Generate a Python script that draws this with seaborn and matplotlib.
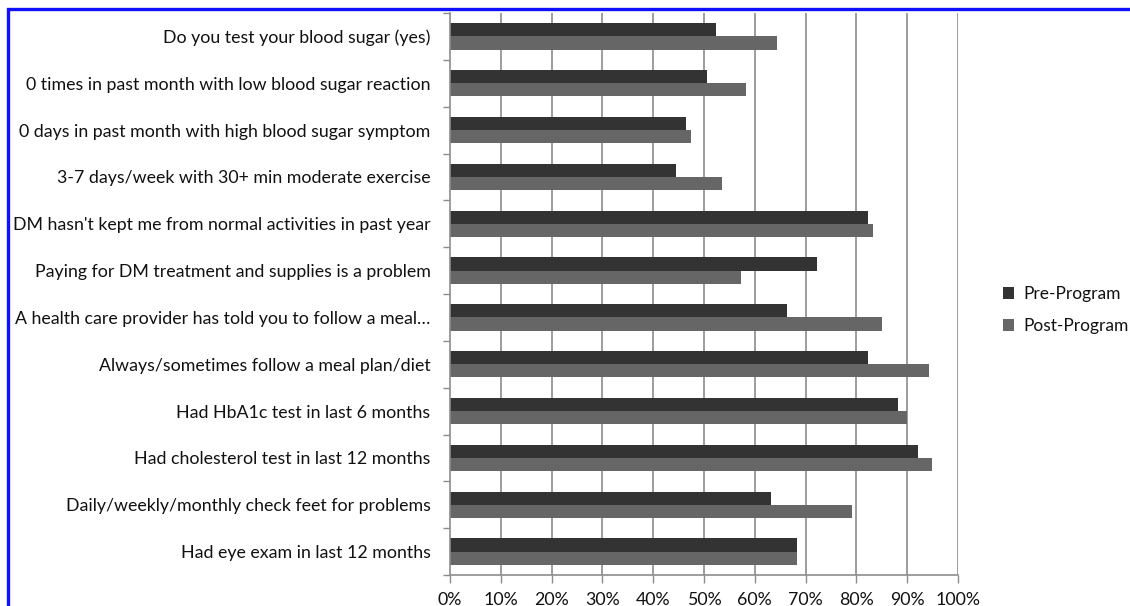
import matplotlib
matplotlib.use("Agg")
import matplotlib.pyplot as plt
from matplotlib.patches import Rectangle
from matplotlib.ticker import FixedLocator, PercentFormatter
import seaborn as sns
import pandas as pd

categories = [
    "Do you test your blood sugar (yes)",
    "0 times in past month with low blood sugar reaction",
    "0 days in past month with high blood sugar symptom",
    "3-7 days/week with 30+ min moderate exercise",
    "DM hasn't kept me from normal activities in past year",
    "Paying for DM treatment and supplies is a problem",
    "A health care provider has told you to follow a meal\u2026",
    "Always/sometimes follow a meal plan/diet",
    "Had HbA1c test in last 6 months",
    "Had cholesterol test in last 12 months",
    "Daily/weekly/monthly check feet for problems",
    "Had eye exam in last 12 months",
]
pre_program = [52.4, 50.6, 46.4, 44.5, 82.2, 72.3, 66.3, 82.2, 88.1, 92.1, 63.2, 68.3]
post_program = [64.3, 58.3, 47.4, 53.5, 83.2, 57.3, 85.1, 94.2, 89.9, 94.9, 79.2, 68.3]
series = ["Pre-Program", "Post-Program"]
x_ticks = list(range(0, 101, 10))

df = pd.DataFrame({
    "category": categories * 2,
    "value": pre_program + post_program,
    "series": [series[0]] * len(categories) + [series[1]] * len(categories),
})

sns.set_theme(style="white")
plt.rcParams["font.family"] = ["Lato", "DejaVu Sans"]

fig = plt.figure(figsize=(11.3, 6.06), dpi=100)
ax = fig.add_axes([450 / 1130, 1 - 575 / 606, 508 / 1130, 562 / 606])

sns.barplot(
    data=df, y="category", x="value", hue="series", orient="h",
    palette=["#333333", "#666666"], width=0.56, ax=ax,
    linewidth=0, saturation=1, legend=True,
)

ax.set_xlim(0, 100)
ax.set_ylim(len(categories) - 0.5, -0.5)
ax.set_xlabel("")
ax.set_ylabel("")

# vertical gridlines at every 10%
ax.xaxis.set_major_locator(FixedLocator(x_ticks))
ax.xaxis.set_major_formatter(PercentFormatter(decimals=0))
for xv in x_ticks[1:]:
    ax.axvline(xv, color="#8c8c8c", linewidth=1.2, zorder=0)

# category boundary ticks on the value axis
ax.yaxis.set_minor_locator(FixedLocator([i - 0.5 for i in range(len(categories) + 1)]))
ax.tick_params(axis="y", which="major", length=0, pad=14, labelsize=12.8, labelcolor="#111111")
ax.tick_params(axis="y", which="minor", length=5, width=1, color="#8c8c8c", left=True)
ax.tick_params(axis="x", which="major", length=6, width=1, color="#8c8c8c", bottom=True,
               labelsize=12.8, labelcolor="#111111", pad=6)

for side in ["top", "right"]:
    ax.spines[side].set_visible(False)
for side in ["left", "bottom"]:
    ax.spines[side].set_color("#8c8c8c")
    ax.spines[side].set_linewidth(1.2)

handles, labels = ax.get_legend_handles_labels()
leg = ax.legend(
    handles, labels, loc="center left", bbox_to_anchor=(1003 / 1130, 1 - 310 / 606),
    bbox_transform=fig.transFigure, frameon=False, fontsize=12.5,
    handlelength=0.65, handleheight=0.65, handletextpad=0.5, labelspacing=0.9,
    borderaxespad=0, borderpad=0,
)
for t in leg.get_texts():
    t.set_color("#111111")

# blue frame along the top and left edges
fig.patches.append(Rectangle(
    (7.5 / 1130, -0.2), 1.5, 1.2 - 9 / 606,
    transform=fig.transFigure, fill=False, edgecolor="#1010ff", linewidth=2.4, zorder=10,
))

fig.savefig("out.png", dpi=100, facecolor="white")
